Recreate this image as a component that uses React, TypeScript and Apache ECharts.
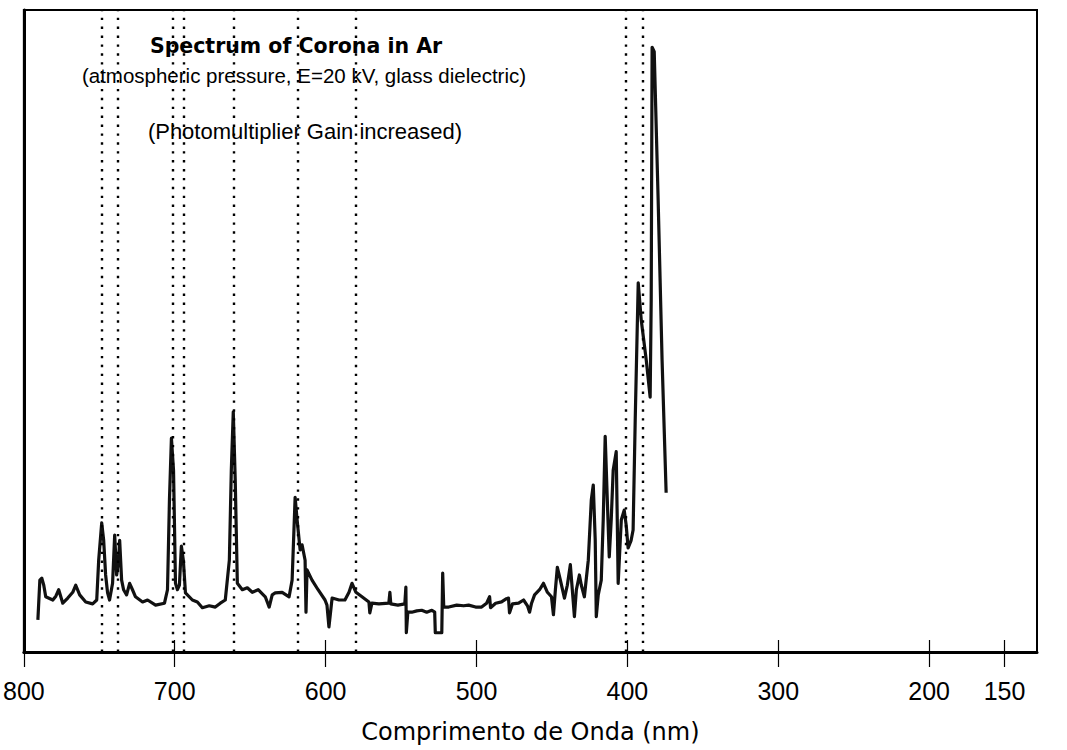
import React, { useEffect, useRef } from "react";
import * as echarts from "echarts";

// Wavelength (nm) of each traced point of the spectrum
const wavelengths: number[] = [
  790.7, 789.4, 788.1, 786.8, 785.5, 780.8, 778.8, 776.9, 774.2, 770.9,
  767.6, 765.6, 763.0, 759.0, 754.4, 751.7, 750.4, 748.4, 747.1, 745.8,
  744.5, 743.2, 741.2, 739.8, 738.5, 737.2, 736.5, 735.2, 733.9, 731.9,
  729.9, 728.0, 726.0, 721.3, 718.0, 712.7, 706.8, 704.8, 703.5, 702.2,
  700.8, 699.5, 698.2, 696.9, 695.6, 694.3, 692.9, 688.3, 685.0, 681.7,
  677.1, 673.1, 669.8, 666.5, 663.8, 662.5, 661.2, 659.9, 658.5, 655.2,
  651.9, 648.6, 644.7, 640.0, 637.4, 635.4, 633.4, 628.8, 624.2, 622.2,
  620.2, 618.9, 616.9, 615.6, 613.6, 613.0, 612.3, 609.0, 605.0, 600.4,
  599.1, 597.8, 595.7, 591.1, 587.2, 584.5, 582.5, 579.9, 575.9, 571.3,
  570.7, 569.3, 564.7, 558.1, 557.4, 556.8, 552.1, 547.5, 546.8, 546.5,
  545.5, 542.9, 539.6, 536.3, 533.0, 529.6, 527.7, 527.3, 523.0, 522.4,
  521.7, 518.4, 513.1, 508.5, 505.2, 500.6, 496.6, 493.3, 491.3, 490.7,
  487.3, 483.4, 480.1, 478.8, 478.1, 476.1, 472.1, 468.8, 466.2, 464.8,
  463.5, 461.5, 458.2, 455.6, 453.0, 450.3, 449.0, 447.7, 446.4, 444.4,
  441.7, 439.8, 437.8, 436.5, 435.1, 433.8, 431.8, 430.5, 428.5, 425.9,
  423.9, 422.6, 421.3, 420.6, 419.3, 417.3, 416.0, 414.7, 413.3, 412.0,
  410.7, 409.4, 407.4, 406.7, 406.1, 404.7, 404.0, 402.1, 400.8, 399.5,
  397.5, 396.2, 394.8, 392.8, 390.8, 387.5, 384.9, 384.2, 383.6, 382.2,
  379.6, 377.0, 374.3,
];

// Relative intensity (arbitrary units, 0-100) at each wavelength
const intensities: number[] = [
  5.0, 11.2, 11.5, 10.4, 8.6, 8.1, 8.7, 9.7, 7.6, 8.4,
  9.3, 10.4, 8.9, 7.8, 7.5, 8.1, 14.3, 20.1, 17.4, 12.0,
  9.2, 8.1, 10.7, 18.2, 12.0, 14.3, 17.4, 11.2, 9.7, 8.9,
  10.7, 9.7, 8.6, 7.8, 8.1, 7.3, 7.6, 9.7, 23.7, 33.3,
  28.3, 10.7, 9.7, 10.4, 16.5, 14.3, 9.2, 8.1, 7.8, 6.9,
  7.2, 7.0, 7.6, 8.1, 14.3, 28.3, 37.4, 26.8, 10.7, 9.7,
  10.0, 9.3, 9.7, 8.6, 7.0, 8.9, 9.2, 9.3, 8.6, 11.2,
  24.1, 20.6, 15.9, 16.7, 14.3, 6.2, 12.8, 11.2, 9.7, 8.1,
  7.3, 3.9, 8.4, 8.1, 8.1, 9.3, 10.7, 9.3, 8.6, 7.8,
  6.1, 7.6, 7.5, 7.6, 9.3, 7.5, 7.3, 7.5, 10.1, 3.0,
  6.2, 6.2, 6.4, 6.5, 6.2, 6.5, 6.2, 3.0, 3.0, 12.3,
  7.0, 7.0, 7.3, 7.2, 7.3, 7.0, 7.0, 7.6, 8.6, 6.9,
  7.6, 7.8, 8.3, 8.4, 6.1, 7.5, 7.6, 8.1, 7.2, 6.2,
  7.6, 8.9, 9.7, 10.7, 9.3, 8.6, 5.8, 9.7, 13.2, 11.2,
  8.4, 10.4, 13.6, 9.7, 5.5, 9.7, 12.0, 10.4, 8.6, 14.3,
  23.7, 26.0, 17.4, 5.5, 8.9, 11.2, 20.6, 33.6, 23.7, 14.8,
  20.6, 28.3, 31.2, 20.6, 10.7, 17.4, 20.6, 22.1, 19.8, 16.2,
  17.4, 19.0, 36.1, 57.5, 51.7, 45.5, 39.7, 54.8, 94.2, 93.5,
  70.4, 45.5, 24.8,
];

// Wavelengths (nm) of the dotted reference lines
const referenceLines: number[] = [748.4, 737.9, 701.5, 694.0, 661.2, 618.5, 580.3, 401.1, 389.5];

// Tick labels on the wavelength axis
const tickValues: number[] = [800, 700, 600, 500, 400, 300, 200, 150];

const titleText = "Spectrum of Corona in Ar";
const subtitleText = "(atmospheric pressure, E=20 kV, glass dielectric)";
const noteText = "(Photomultiplier Gain increased)";
const xAxisName = "Comprimento de Onda (nm)";

const X_MIN = 128.5;
const X_MAX = 800;

export default function App() {
  const ref = useRef<HTMLDivElement>(null);

  useEffect(() => {
    document.body.style.margin = "0";
    if (!ref.current) return;
    const chart = echarts.init(ref.current, undefined, { renderer: "svg" });
    const seriesData = wavelengths.map((w, i) => [w, intensities[i]]);
    const textFont = "'Liberation Sans', Arial, sans-serif";

    chart.setOption({
      animation: false,
      backgroundColor: "#ffffff",
      grid: {
        left: 21,
        right: 30,
        top: 10,
        bottom: 98,
        show: true,
        borderColor: "#000",
        borderWidth: 2,
        backgroundColor: "transparent",
      },
      graphic: [
        {
          type: "text",
          x: 296,
          y: 46,
          style: {
            text: titleText,
            font: "bold 20.5px 'DejaVu Sans', sans-serif",
            fill: "#000",
            textAlign: "center",
            textVerticalAlign: "middle",
          },
        },
        {
          type: "text",
          x: 304,
          y: 75,
          style: {
            text: subtitleText,
            font: "20.5px " + textFont,
            fill: "#000",
            textAlign: "center",
            textVerticalAlign: "middle",
          },
        },
        {
          type: "text",
          x: 305,
          y: 131,
          style: {
            text: noteText,
            font: "22px " + textFont,
            fill: "#000",
            textAlign: "center",
            textVerticalAlign: "middle",
          },
        },
      ],
      xAxis: [
        {
          type: "value",
          inverse: true,
          min: X_MIN,
          max: X_MAX,
          name: xAxisName,
          nameLocation: "middle",
          nameGap: 68,
          nameTextStyle: {
            fontFamily: "'DejaVu Sans', sans-serif",
            fontSize: 24,
            color: "#000",
          },
          axisLine: { show: true, lineStyle: { color: "#000", width: 3 } },
          axisTick: {
            show: true,
            length: 15,
            customValues: tickValues,
            lineStyle: { color: "#000", width: 1.2 },
          },
          axisLabel: {
            customValues: tickValues,
            margin: 26,
            fontFamily: textFont,
            fontSize: 25,
            color: "#000",
          },
          splitLine: { show: false },
        },
        {
          type: "value",
          inverse: true,
          min: X_MIN,
          max: X_MAX,
          position: "bottom",
          axisLine: { show: false },
          axisTick: {
            show: true,
            inside: true,
            length: 12,
            customValues: tickValues,
            lineStyle: { color: "#000", width: 1.2 },
          },
          axisLabel: { show: false },
          splitLine: { show: false },
        },
      ],
      yAxis: {
        type: "value",
        min: 0,
        max: 100,
        axisLine: { show: true, lineStyle: { color: "#000", width: 3 } },
        axisTick: { show: false },
        axisLabel: { show: false },
        splitLine: { show: false },
      },
      series: [
        {
          type: "line",
          xAxisIndex: 0,
          data: seriesData,
          showSymbol: false,
          symbol: "none",
          lineStyle: { color: "#111", width: 3.2, join: "round" },
          silent: true,
          markLine: {
            silent: true,
            symbol: ["none", "none"],
            label: { show: false },
            animation: false,
            lineStyle: { color: "#000", width: 2.4, type: [2.4, 6.5] },
            data: referenceLines.map((w) => ({ xAxis: w })),
          },
        },
      ],
    });

    return () => chart.dispose();
  }, []);

  return <div ref={ref} style={{ width: 1067, height: 750 }} />;
}
